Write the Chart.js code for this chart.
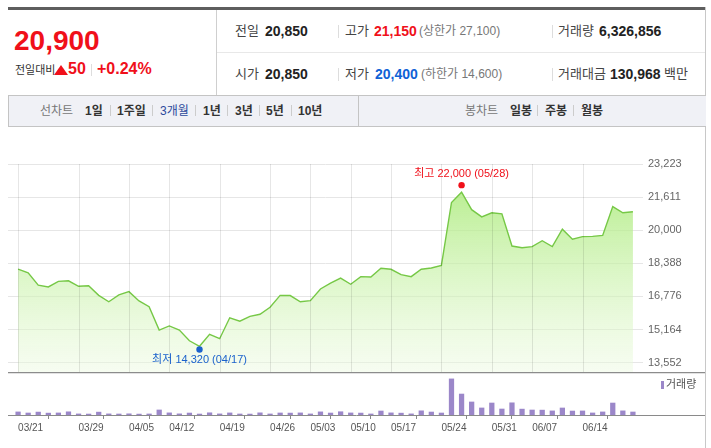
<!DOCTYPE html>
<html lang="ko">
<head>
<meta charset="utf-8">
<title>3개월 선차트</title>
<script src="https://cdn.jsdelivr.net/npm/chart.js@4.4.1/dist/chart.umd.min.js"></script>
<style>
  html, body { margin: 0; padding: 0; background: #fff; }
  body { width: 711px; height: 448px; position: relative; overflow: hidden;
         font-family: "Liberation Sans", "Noto Sans CJK KR", sans-serif; color: #333; }
  .t { position: absolute; white-space: nowrap; line-height: 20px; }
  .k { font-size: 13px; color: #444; }
  .n { font-size: 14px; font-weight: bold; color: #222; }
  .s { font-size: 12px; color: #777; }
  .tab { font-size: 12px; font-weight: bold; color: #333; }
  .bar { position: absolute; width: 1px; background: #ddd; }
  .line { position: absolute; }
  .up { color: #f0101a; }
  .dn { color: #0f62d6; }
  canvas { position: absolute; }
</style>
</head>
<body>

<!-- header frame -->
<div class="line" style="left:8px;top:7px;width:697px;height:3px;background:#5e5e5e"></div>
<div class="line" style="left:216px;top:10px;width:1px;height:85px;background:#cfcfcf"></div>
<div class="line" style="left:217px;top:52px;width:488px;height:1px;background:#e8e8e8"></div>
<div class="line" style="left:705px;top:7px;width:1px;height:441px;background:#c8c8c8"></div>

<!-- current price -->
<div class="t up" style="left:14px;top:26px;font-size:28px;line-height:30px;font-weight:bold">20,900</div>
<div class="t" style="left:15px;top:60px;font-size:11px;color:#333">전일대비</div>
<div class="line" style="left:54px;top:65px;width:0;height:0;border-left:7px solid transparent;border-right:7px solid transparent;border-bottom:10px solid #f0101a"></div>
<div class="t up" style="left:68px;top:59px;font-size:16px;font-weight:bold">50</div>
<div class="bar" style="left:91px;top:64px;height:12px"></div>
<div class="t up" style="left:97px;top:59px;font-size:16px;font-weight:bold">+0.24%</div>

<!-- row 1 -->
<div class="t k" style="left:235px;top:21px">전일</div>
<div class="t n" style="left:265px;top:21px">20,850</div>
<div class="bar" style="left:338px;top:25px;height:13px"></div>
<div class="t k" style="left:345px;top:21px">고가</div>
<div class="t n up" style="left:374px;top:21px">21,150</div>
<div class="t s" style="left:419px;top:21px">(상한가 27,100)</div>
<div class="bar" style="left:552px;top:25px;height:13px"></div>
<div class="t k" style="left:558px;top:21px">거래량</div>
<div class="t n" style="left:599px;top:21px">6,326,856</div>

<!-- row 2 -->
<div class="t k" style="left:235px;top:64px">시가</div>
<div class="t n" style="left:265px;top:64px">20,850</div>
<div class="bar" style="left:338px;top:68px;height:13px"></div>
<div class="t k" style="left:345px;top:64px">저가</div>
<div class="t n dn" style="left:375px;top:64px">20,400</div>
<div class="t s" style="left:421px;top:64px">(하한가 14,600)</div>
<div class="bar" style="left:552px;top:68px;height:13px"></div>
<div class="t k" style="left:558px;top:64px">거래대금</div>
<div class="t n" style="left:610px;top:64px">130,968</div>
<div class="t k" style="left:664px;top:64px">백만</div>

<!-- tab bar -->
<div class="line" style="left:8px;top:95px;width:697px;height:30px;background:#f0f1f6;border-top:1px solid #c4c4c4;border-bottom:1px solid #c4c4c4;border-left:1px solid #c4c4c4"></div>
<div class="line" style="left:358px;top:96px;width:1px;height:30px;background:#c4c4c4"></div>
<div class="t s" style="left:40px;top:101px">선차트</div>
<div class="t tab" style="left:85px;top:101px">1일</div>
<div class="bar" style="left:110px;top:105px;height:11px;background:#ccc"></div>
<div class="t tab" style="left:117px;top:101px">1주일</div>
<div class="bar" style="left:152px;top:105px;height:11px;background:#ccc"></div>
<div class="t tab" style="left:160px;top:101px;color:#2c4a9c;font-weight:normal">3개월</div>
<div class="bar" style="left:195px;top:105px;height:11px;background:#ccc"></div>
<div class="t tab" style="left:203px;top:101px">1년</div>
<div class="bar" style="left:227px;top:105px;height:11px;background:#ccc"></div>
<div class="t tab" style="left:235px;top:101px">3년</div>
<div class="bar" style="left:259px;top:105px;height:11px;background:#ccc"></div>
<div class="t tab" style="left:266px;top:101px">5년</div>
<div class="bar" style="left:291px;top:105px;height:11px;background:#ccc"></div>
<div class="t tab" style="left:298px;top:101px">10년</div>
<div class="t s" style="left:465px;top:101px">봉차트</div>
<div class="t tab" style="left:510px;top:101px">일봉</div>
<div class="bar" style="left:537px;top:105px;height:11px;background:#ccc"></div>
<div class="t tab" style="left:545px;top:101px">주봉</div>
<div class="bar" style="left:573px;top:105px;height:11px;background:#ccc"></div>
<div class="t tab" style="left:581px;top:101px">월봉</div>

<!-- charts -->
<canvas id="price" width="697" height="245" style="left:8px;top:127px"></canvas>
<div class="line" style="left:8px;top:372px;width:697px;height:1px;background:#8c8c8c"></div>
<div class="line" style="left:8px;top:373px;width:697px;height:1px;background:#e2e2e2"></div>
<canvas id="volume" width="697" height="74" style="left:8px;top:374px"></canvas>
<div class="line" style="left:661px;top:381px;width:3px;height:8px;background:#9b87c9"></div>
<div class="t" style="left:666px;top:374px;font-size:11px;color:#555">거래량</div>

<script>
// trading days, 3/21 ~ 6/21
const dates = [
  '03/21', '03/22', '03/25', '03/26', '03/27', '03/28', '03/29',
  '04/01', '04/02', '04/03', '04/04', '04/05', '04/08', '04/09', '04/11', '04/12',
  '04/15', '04/16', '04/17', '04/18', '04/19', '04/22', '04/23', '04/24', '04/25', '04/26',
  '04/29', '04/30', '05/02', '05/03', '05/07', '05/08', '05/09', '05/10',
  '05/13', '05/14', '05/16', '05/17', '05/20', '05/21', '05/22', '05/23', '05/24',
  '05/27', '05/28', '05/29', '05/30', '05/31', '06/03', '06/04', '06/05', '06/07',
  '06/10', '06/11', '06/12', '06/13', '06/14', '06/17', '06/18', '06/19', '06/20', '06/21'
];

// closing prices
const closes = [
  18110, 17930, 17330, 17240, 17510, 17540, 17270, 17300, 16830, 16520,
  16850, 17010, 16560, 16280, 15140, 15340, 15140, 14620, 14350, 14930,
  14720, 15740, 15570, 15810, 15910, 16250, 16830, 16820, 16520, 16570,
  17140, 17420, 17670, 17370, 17740, 17720, 18150, 18100, 17840, 17740,
  18100, 18160, 18290, 21350, 21850, 21000, 20650, 20850, 20800, 19230,
  19150, 19200, 19490, 19200, 20050, 19560, 19690, 19700, 19750, 21150,
  20850, 20900
];

// traded volume
const volumes = [
  6480000, 4210000, 6150000, 3970000, 4330000, 6720000, 2240000, 1980000, 6050000, 2310000,
  2080000, 2460000, 1890000, 2150000, 10620000, 4480000, 2370000, 4120000, 2010000, 4650000,
  2290000, 4390000, 2110000, 1940000, 4560000, 2180000, 4270000, 4030000, 4410000, 2230000,
  6590000, 4140000, 6880000, 4350000, 4060000, 2190000, 8420000, 4470000, 3920000, 2340000,
  8810000, 6240000, 4180000, 76150000, 44230000, 27480000, 14860000, 25310000, 12640000, 25720000,
  12410000, 10530000, 10280000, 8640000, 14790000, 8370000, 8550000, 4320000, 6460000, 25260000,
  8710000, 6326856
];

const priceTicks = [13552, 15164, 16776, 18388, 20000, 21611, 23223];
const dateTicks = ['03/21', '03/29', '04/05', '04/12', '04/19', '04/26', '05/03',
                   '05/10', '05/17', '05/24', '05/31', '06/07', '06/14'];

const high = { date: '05/28', value: 22000 };
const low = { date: '04/17', value: 14320 };

const tickIdx = dateTicks.map(d => dates.indexOf(d));
const fmt = v => v.toLocaleString('en-US');
const smallFont = '"Liberation Sans", "Noto Sans CJK KR", sans-serif';

const xRange = { type: 'linear', offset: false, min: -1, max: dates.length };

function noPad(s) {
  s.paddingTop = 0;
  s.paddingBottom = 0;
  s.paddingLeft = 0;
  s.paddingRight = 0;
}

// vertical date lines over the whole price panel
const dateLinesPlugin = {
  id: 'dateLines',
  afterDatasetsDraw(chart) {
    const { ctx, chartArea, scales } = chart;
    ctx.save();
    ctx.globalCompositeOperation = 'multiply';
    ctx.strokeStyle = '#e6e6e6';
    ctx.lineWidth = 1;
    tickIdx.forEach(i => {
      const x = Math.round(scales.x.getPixelForValue(i)) + 0.5;
      ctx.beginPath();
      ctx.moveTo(x, chartArea.top);
      ctx.lineTo(x, chart.height);
      ctx.stroke();
    });
    ctx.restore();
  }
};

// high / low marks with their captions
const hiLoPlugin = {
  id: 'hiLo',
  afterDatasetsDraw(chart) {
    const { ctx, scales } = chart;
    const marks = [
      { p: high, color: '#f0101a', dy: -4, ty: -11, name: '최고' },
      { p: low, color: '#1b62cc', dy: 2.5, ty: 11, name: '최저' }
    ];
    ctx.save();
    marks.forEach(m => {
      const x = scales.x.getPixelForValue(dates.indexOf(m.p.date));
      const y = scales.y.getPixelForValue(m.p.value) + m.dy;
      ctx.fillStyle = m.color;
      ctx.beginPath();
      ctx.arc(x, y, 3.2, 0, Math.PI * 2);
      ctx.fill();
      ctx.font = '11px ' + smallFont;
      ctx.textAlign = 'center';
      ctx.textBaseline = 'middle';
      ctx.fillText(m.name + ' ' + fmt(m.p.value) + ' (' + m.p.date + ')', x, y + m.ty);
    });
    ctx.restore();
  }
};

new Chart(document.getElementById('price'), {
  type: 'line',
  data: {
    datasets: [{
      data: closes.map((v, i) => ({ x: i, y: v })),
      borderColor: '#76c846',
      borderWidth: 1.4,
      pointRadius: 0,
      tension: 0,
      fill: 'start',
      backgroundColor(ctx) {
        const area = ctx.chart.chartArea;
        if (!area) return 'rgba(0,0,0,0)';
        const g = ctx.chart.ctx.createLinearGradient(0, area.top, 0, area.bottom);
        g.addColorStop(0, 'rgba(160,232,105,0.85)');
        g.addColorStop(1, 'rgba(236,250,224,0.45)');
        return g;
      }
    }]
  },
  options: {
    responsive: false,
    animation: false,
    devicePixelRatio: 1,
    layout: { padding: { top: 37, left: 0, right: 0, bottom: 0 } },
    plugins: { legend: { display: false }, tooltip: { enabled: false } },
    scales: {
      x: {
        ...xRange,
        afterFit(s) { s.height = 0; noPad(s); },
        ticks: { display: false },
        grid: { display: false },
        border: { display: false }
      },
      y: {
        position: 'right',
        min: 13100,
        max: 23223,
        afterBuildTicks(s) { s.ticks = priceTicks.map(v => ({ value: v })); },
        afterFit(s) { s.width = 62; noPad(s); },
        ticks: { padding: 5, color: '#666', font: { size: 11, family: smallFont }, callback: v => fmt(v) },
        grid: { color: '#e6e6e6', drawTicks: false },
        border: { display: false }
      }
    }
  },
  plugins: [dateLinesPlugin, hiLoPlugin]
});

// axis line running under the bars, full width
const baselinePlugin = {
  id: 'baseline',
  afterDraw(chart) {
    const { ctx, chartArea } = chart;
    ctx.save();
    ctx.strokeStyle = '#8a8a8a';
    ctx.lineWidth = 1;
    ctx.beginPath();
    ctx.moveTo(0, chartArea.bottom + 0.5);
    ctx.lineTo(chart.width, chartArea.bottom + 0.5);
    ctx.stroke();
    ctx.restore();
  }
};

new Chart(document.getElementById('volume'), {
  type: 'bar',
  data: {
    datasets: [{
      data: volumes.map((v, i) => ({ x: i, y: v })),
      backgroundColor: '#9b87c9',
      barThickness: 4.6
    }]
  },
  options: {
    responsive: false,
    animation: false,
    devicePixelRatio: 1,
    layout: { padding: { top: 1, right: 62, left: 0, bottom: 0 } },
    plugins: { legend: { display: false }, tooltip: { enabled: false } },
    scales: {
      x: {
        ...xRange,
        afterBuildTicks(s) { s.ticks = tickIdx.map(v => ({ value: v })); },
        afterFit(s) { s.height = 33; noPad(s); },
        ticks: {
          autoSkip: false,
          maxRotation: 0,
          align: 'start',
          padding: 3,
          color: '#555',
          font: { size: 10, family: smallFont },
          callback: v => dates[v]
        },
        grid: { drawOnChartArea: false, drawTicks: true, tickLength: 4, color: '#8a8a8a' },
        border: { display: false }
      },
      y: { display: false, min: 0, max: 84400000 }
    }
  },
  plugins: [baselinePlugin]
});
</script>
</body>
</html>
